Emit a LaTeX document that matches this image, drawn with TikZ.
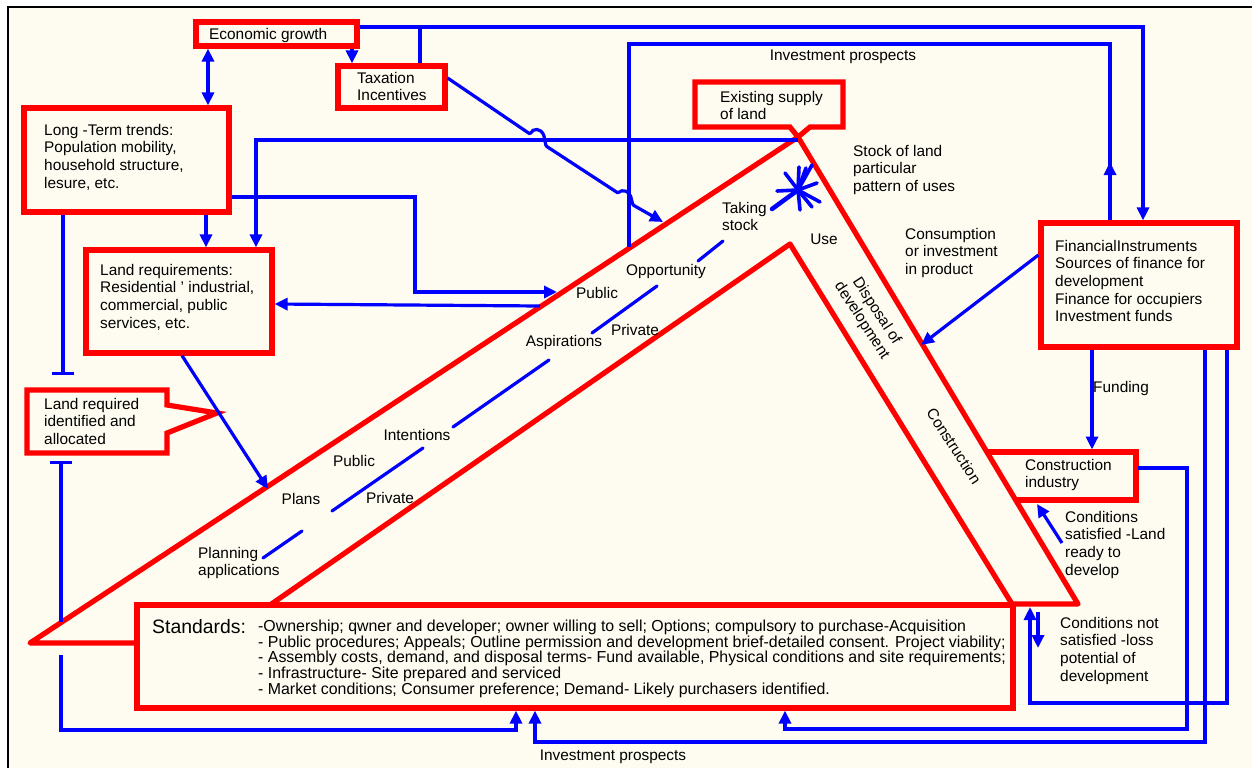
\documentclass[tikz,border=0pt]{standalone}
\usepackage{fontspec}
\setmainfont{Liberation Sans}
\usetikzlibrary{arrows.meta}
\definecolor{cream}{RGB}{254,251,240}
\definecolor{rred}{RGB}{255,0,0}
\definecolor{bblue}{RGB}{0,0,255}
\tikzset{
  redline/.style={draw=rred, line width=5.2pt},
  rbox/.style={redline, inner sep=0pt, fill=cream},
  conn/.style={draw=bblue, line width=3.2pt},
  arr/.style={conn, -{Triangle[length=13pt,width=12pt]}},
  darr/.style={conn, {Triangle[length=13pt,width=12pt]}-{Triangle[length=13pt,width=12pt]}},
  bararr/.style={conn, -{Bar[width=22pt]}},
  barstart/.style={conn, {Bar[width=22pt]}-},
  txt/.style={font=\fontsize{15.4}{17.6}\selectfont, inner sep=0pt, align=left},
  lbl/.style={font=\fontsize{15.4}{17.6}\selectfont, inner sep=0pt},
}
\begin{document}
\begin{tikzpicture}[x=1pt,y=-1pt]
\useasboundingbox (0,0) rectangle (1252,768);
\fill[white] (0,0) rectangle (1252,768);
\fill[cream] (8,7) rectangle (1252,768);
\draw[black, line width=2pt] (8,768) -- (8,7) -- (1252,7);

% triangle band
\draw[redline, line join=round] (137,643) -- (30,643) -- (798,137) -- (1078,604) -- (1013,604);
\draw[redline, line join=round] (270,605) -- (790,244) -- (1012,604);

% boxes
\node[rbox, minimum width=161pt, minimum height=24pt] (eg) at (276.5,34) {};
\node[rbox, minimum width=107pt, minimum height=42pt] (tax) at (391.5,87) {};
\node[rbox, minimum width=205pt, minimum height=104pt] (lt) at (126.5,160) {};
\node[rbox, minimum width=186pt, minimum height=103pt] (lr) at (179,301.5) {};
\node[rbox, minimum width=196pt, minimum height=124pt] (fin) at (1139,285) {};
\node[rbox, minimum width=876pt, minimum height=103pt] (std) at (575,656.5) {};
\draw[redline, fill=cream] (27,390) -- (167,390) -- (167,405) -- (217,413) -- (167,433) -- (167,453) -- (27,453) -- cycle;
\coordinate (lrq) at (217,413);
\draw[redline, fill=cream] (695,82) -- (843,82) -- (843,127) -- (810,127) -- (798,137) -- (790,127) -- (695,127) -- cycle;
\coordinate (apex) at (798,140);
\draw[redline] (988,452) -- (1136,452) -- (1136,500) -- (1017,500);

% texts
\node[txt, anchor=north west] (egt) at (209,28) {Economic growth};
\node[txt, anchor=north west] (taxt) at (357,72) {Taxation\\Incentives};
\node[txt, anchor=north west] (ltt) at (44,124) {Long -Term trends:\\Population mobility,\\household structure,\\lesure, etc.};
\node[txt, anchor=north west] (lrt) at (100,264) {Land requirements:\\Residential ' industrial,\\commercial, public\\services, etc.};
\node[txt, anchor=north west] (lrqt) at (44,398) {Land required\\identified and\\allocated};
\node[txt, anchor=north west] (est) at (720,91) {Existing supply\\ of land};
\node[txt, anchor=north west] (stock) at (853,145) {Stock of land\\particular\\pattern of uses};
\node[txt, anchor=north west] (cons) at (905,228) {Consumption\\or investment\\in product};
\node[txt, anchor=north west] (take) at (722,202) {Taking\\stock};
\node[txt, anchor=north west] (fint) at (1055,240) {FinancialInstruments\\Sources of finance for\\development\\Finance for occupiers\\Investment funds};
\node[txt, anchor=north west] (cit) at (1025,459) {Construction\\industry};
\node[txt, anchor=north west] (cs) at (1065,511) {Conditions\\satisfied -Land\\ready to\\develop};
\node[txt, anchor=north west] (cns) at (1060,617) {Conditions not\\satisfied -loss\\potential of\\development};
\node[txt, anchor=north west] (plan) at (198,547) {Planning\\applications};
\node[lbl, anchor=base] (ip1) at (843,60.5) {Investment prospects};
\node[lbl, anchor=base] (opp) at (666,275.5) {Opportunity};
\node[lbl, anchor=base] (pub1) at (597,298.5) {Public};
\node[lbl, anchor=base] (pri1) at (635,335.5) {Private};
\node[lbl, anchor=base] (asp) at (564,346.5) {Aspirations};
\node[lbl, anchor=base] (int) at (417,440.5) {Intentions};
\node[lbl, anchor=base] (pub2) at (354,466.5) {Public};
\node[lbl, anchor=base] (plans) at (301,504.5) {Plans};
\node[lbl, anchor=base] (pri2) at (390,503.5) {Private};
\node[lbl, anchor=base] (use) at (824,244.5) {Use};
\node[lbl, anchor=base west] (fund) at (1093,392.5) {Funding};
\node[lbl, anchor=base] (ip2) at (613,760.5) {Investment prospects};
\node[txt, align=center, rotate=-57] (disp) at (869,316) {Disposal of\\development};
\node[lbl, rotate=-57] (constr) at (954,446) {Construction};
\node[inner sep=0pt, anchor=base west, font=\fontsize{19.4}{22}\selectfont] (stdt) at (152,633) {Standards:};
\node[inner sep=0pt, anchor=north west, align=left, font=\fontsize{15.9}{15.8}\selectfont] (stdl) at (258,619.5) {-Ownership; qwner and developer; owner willing to sell; Options; compulsory to purchase-Acquisition\\- Public procedures; Appeals; Outline permission and development brief-detailed consent. Project viability;\\- Assembly costs, demand, and disposal terms- Fund available, Physical conditions and site requirements;\\- Infrastructure- Site prepared and serviced\\- Market conditions; Consumer preference; Demand- Likely purchasers identified.};

% connectors
\draw[darr] (208,0 |- eg.south) -- (208,0 |- lt.north);
\draw[arr] (352,0 |- eg.south) -- (352,0 |- tax.north);
\draw[arr] (eg.east |- 0,27) -- (1143,27) -- (1143,0 |- fin.north);
\draw[conn] (420,27) -- (420,0 |- tax.north);
\draw[conn] (629,247) -- (629,44) -- (1110,44) -- (1110,0 |- fin.north);
\draw[arr] (1110,200) -- (1110,162);
\draw[arr] (lt.east |- 0,197) -- (415,197) -- (415,292) -- (557,292);
\draw[arr] (540,306) -- (lr.east |- 0,304);
\draw[arr] (apex) -- (256,140) -- (256,0 |- lr.north);
\draw[arr] (206,0 |- lt.south) -- (206,0 |- lr.north);
\draw[arr, rounded corners=1pt] (tax.east |- 0,78) -- (530,134) .. controls (533,128) and (541,128) .. (544,136) -- (546,146) -- (618,193) .. controls (622,189) and (630,191) .. (631,198) -- (633,205) -- (663,222);
\draw[arr] (182,0 |- lr.south) -- (268,489);
\draw[bararr] (63,0 |- lt.south) -- (63,375);
\draw[barstart] (61,461) -- (61,622);
\draw[arr] (61,655) -- (61,730) -- (516,730) -- (516,0 |- std.south);
\draw[arr] (1092,0 |- fin.south) -- (1092,449.5);
\draw[arr] (1138,468) -- (1187,468) -- (1187,729) -- (785,729) -- (785,0 |- std.south);
\draw[arr] (1205,0 |- fin.south) -- (1205,742) -- (535,742) -- (535,0 |- std.south);
\draw[arr] (1227,0 |- fin.south) -- (1227,703) -- (1030,703) -- (1030,607);
\draw[arr] (1038,612) -- (1038,648);
\draw[arr] (1062,543) -- (1037,504);
\draw[arr] (fin.west |- 0,255) -- (921,345);

% centre line of the band
\draw[conn, line cap=round] (263,558) -- (302,531);
\draw[conn, line cap=round] (332,511) -- (423,448);
\draw[conn, line cap=round] (453,427) -- (549,360);
\draw[conn, line cap=round] (592,333) -- (657,286);
\draw[conn, line cap=round] (698,261) -- (723,241);

% star
\coordinate (star) at (798,190);
\foreach \p in {(799,167),(812,165),(817,183),(820,202),(777,191),(800,210),(812,207),(785,173),(806,168)}
  \draw[conn, line width=3.6pt, line cap=round] (star) -- \p;
\draw[conn, line width=4.5pt, line cap=round] (star) -- (772,209);
\end{tikzpicture}
\end{document}
